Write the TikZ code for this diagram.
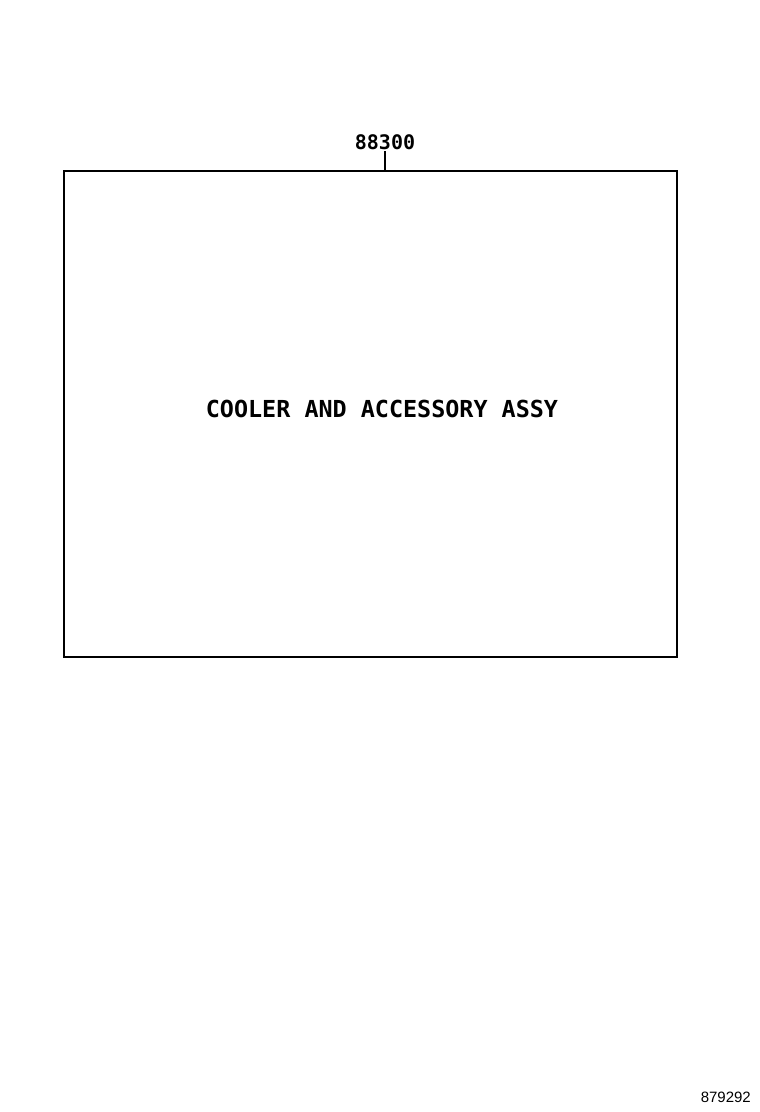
\documentclass[tikz,border=0pt]{standalone}
\usepackage{fontspec}
\newfontfamily\partmono{DejaVu Sans Mono}
\newfontfamily\partsans{Liberation Sans}
\tikzset{
  partbox/.style={draw,line width=1.6pt,minimum width=613pt,minimum height=486pt,inner sep=0pt},
  partno/.style={font=\partmono\bfseries\fontsize{20}{20}\selectfont,inner sep=1pt},
  parttitle/.style={font=\partmono\bfseries\fontsize{23.4}{24}\selectfont,inner sep=0pt},
  figno/.style={font=\partsans\fontsize{15}{15}\selectfont,inner sep=0pt}
}
\begin{document}
\begin{tikzpicture}[x=1pt,y=-1pt]
  \useasboundingbox (0,0) rectangle (760,1112);
  \node[partbox] (box) at (370.5,414) {};
  \node[parttitle] (title) at (382,409) {COOLER AND ACCESSORY ASSY};
  \node[partno,anchor=south] (num) at (385,151) {88300};
  \draw[line width=1.6pt] (num.south) -- (num.south |- box.north);
  \node[figno,anchor=east] (fig) at (751,1097) {879292};
\end{tikzpicture}
\end{document}
